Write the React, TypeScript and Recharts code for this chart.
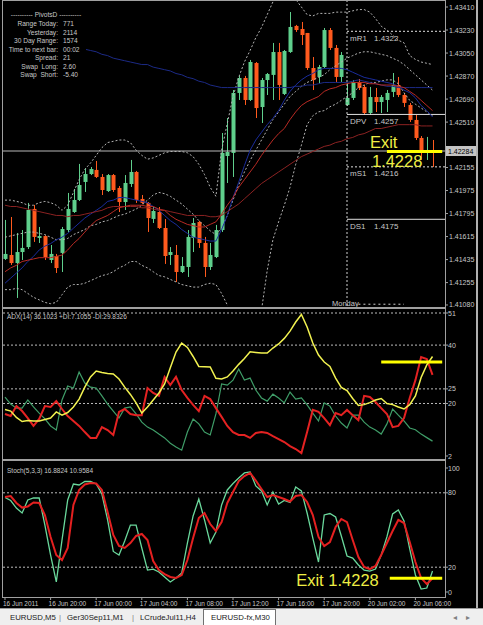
import { Bar, ComposedChart, Line, ReferenceLine, XAxis, YAxis } from "recharts";

// EURUSD M30, 16 Jun 16:00 .. 20 Jun 07:30 (76 bars)
const open = [
  1.4144, 1.41471, 1.41408, 1.41494, 1.41533, 1.41831, 1.41604, 1.41619, 1.41432, 1.41463,
  1.41487, 1.41666, 1.41807, 1.41901, 1.42042, 1.42104, 1.42136, 1.42081, 1.41971, 1.42096,
  1.41995, 1.41885, 1.42026, 1.4212, 1.41909, 1.41878, 1.41753, 1.41807, 1.41682, 1.41471,
  1.41471, 1.41338, 1.41377, 1.41604, 1.41729, 1.41565, 1.41377, 1.41455, 1.41666, 1.42245,
  1.42269, 1.42738, 1.42855, 1.42683, 1.42972, 1.42628, 1.42839, 1.42879, 1.43058, 1.4273,
  1.43058, 1.43262, 1.43238, 1.43207, 1.42933, 1.42863, 1.42941, 1.4323, 1.4309, 1.42863,
  1.42644, 1.42699, 1.42824, 1.42785, 1.42581, 1.42706, 1.42667, 1.42683, 1.42746, 1.428,
  1.42722, 1.42644, 1.42527, 1.42386, 1.42269, 1.42292,
];
const high = [
  1.41745, 1.41768, 1.41643, 1.41666, 1.41878, 1.41862, 1.4169, 1.41625, 1.41549, 1.41479,
  1.4169, 1.41956, 1.41987, 1.42183, 1.42151, 1.42159, 1.42206, 1.42104, 1.42104, 1.42104,
  1.4201, 1.42096, 1.42214, 1.42128, 1.4194, 1.41885, 1.41846, 1.41846, 1.41752, 1.41533,
  1.41549, 1.41455, 1.41666, 1.4176, 1.41737, 1.41612, 1.41565, 1.41706, 1.42425, 1.42542,
  1.42761, 1.42871, 1.42871, 1.42996, 1.4298, 1.42855, 1.42894, 1.43129, 1.43129, 1.43074,
  1.43371, 1.4327, 1.43293, 1.43207, 1.43019, 1.42957, 1.43246, 1.43246, 1.43113, 1.43058,
  1.42816, 1.42839, 1.42847, 1.428, 1.42785, 1.42777, 1.42722, 1.42761, 1.42894, 1.42863,
  1.42738, 1.4266, 1.42566, 1.42401, 1.42394, 1.4237,
];
const low = [
  1.41432, 1.41393, 1.41135, 1.41432, 1.41518, 1.41573, 1.41565, 1.41432, 1.41408, 1.4133,
  1.41338, 1.41651, 1.418, 1.41893, 1.41964, 1.42096, 1.42073, 1.4194, 1.41964, 1.41964,
  1.41807, 1.41823, 1.42003, 1.41878, 1.4187, 1.41651, 1.41721, 1.41674, 1.41401, 1.41393,
  1.4126, 1.4133, 1.41299, 1.41494, 1.41526, 1.41299, 1.41354, 1.41447, 1.41651, 1.42034,
  1.42081, 1.42683, 1.42644, 1.42675, 1.42542, 1.42503, 1.42722, 1.42683, 1.42683, 1.42722,
  1.43051, 1.43215, 1.43113, 1.42918, 1.42761, 1.42816, 1.42933, 1.43074, 1.42824, 1.42824,
  1.42636, 1.42683, 1.42761, 1.42566, 1.42566, 1.42589, 1.42581, 1.42589, 1.42706, 1.42706,
  1.42628, 1.42511, 1.4237, 1.42214, 1.42214, 1.42159,
];
const close = [
  1.41479, 1.41408, 1.41494, 1.41526, 1.41823, 1.41612, 1.41619, 1.41455, 1.41479, 1.41369,
  1.41674, 1.41831, 1.41901, 1.42018, 1.42104, 1.42143, 1.42081, 1.41979, 1.42096, 1.41979,
  1.41885, 1.42034, 1.4212, 1.41901, 1.41878, 1.4176, 1.41815, 1.41682, 1.41463, 1.41494,
  1.41338, 1.41385, 1.41612, 1.41721, 1.41565, 1.41377, 1.41471, 1.41666, 1.42269, 1.42276,
  1.42738, 1.42855, 1.42683, 1.4298, 1.4262, 1.42839, 1.42886, 1.43058, 1.428, 1.43066,
  1.43254, 1.4323, 1.43191, 1.42933, 1.42839, 1.42941, 1.4323, 1.4309, 1.42863, 1.43035,
  1.42699, 1.42824, 1.42777, 1.42581, 1.42706, 1.42667, 1.42706, 1.42738, 1.428, 1.42722,
  1.4266, 1.42527, 1.42386, 1.42276, 1.42292, 1.42284,
];

const bbUpper = [
  1.419, 1.419, 1.4189, 1.4188, 1.4186, 1.4186, 1.4188, 1.4189, 1.4188, 1.4186,
  1.4182, 1.4186, 1.4196, 1.4206, 1.4214, 1.4219, 1.4225, 1.4231, 1.4235, 1.4236,
  1.4237, 1.4237, 1.4235, 1.4229, 1.4225, 1.4222, 1.4223, 1.4225, 1.4227, 1.4228,
  1.4228, 1.4228, 1.4227, 1.4224, 1.4218, 1.421, 1.42, 1.4193, 1.4229, 1.425,
  1.4271, 1.4286, 1.4298, 1.4307, 1.4317, 1.4325, 1.4335, 1.4345, 1.4352, 1.4355,
  1.4352, 1.4347, 1.4341, 1.4335, 1.4334, 1.4336, 1.4336, 1.4336, 1.4337, 1.4337,
  1.4337, 1.4338, 1.4339, 1.4339, 1.4337, 1.4332, 1.4326, 1.4323, 1.4319, 1.4315,
  1.4313, 1.4303, 1.43, 1.4298, 1.4297, 1.4296,
];
const bbMiddle = [
  1.4161, 1.4162, 1.4163, 1.4164, 1.4165, 1.4165, 1.4164, 1.4163, 1.4161, 1.4159,
  1.4159, 1.416, 1.4163, 1.4165, 1.4167, 1.417, 1.4171, 1.4173, 1.4174, 1.4176,
  1.4178, 1.4179, 1.4181, 1.4183, 1.4186, 1.419, 1.4194, 1.4196, 1.4195, 1.4193,
  1.419, 1.4187, 1.4183, 1.4179, 1.4174, 1.417, 1.4166, 1.4163, 1.4168, 1.4178,
  1.419, 1.4202, 1.4212, 1.4221, 1.4229, 1.4237, 1.4245, 1.4253, 1.4259, 1.4265,
  1.4271, 1.4275, 1.4279, 1.4282, 1.4284, 1.4286, 1.4288, 1.4292, 1.4295, 1.4298,
  1.4301, 1.4303, 1.4305, 1.4306, 1.4306, 1.4305, 1.4304, 1.4303, 1.4301, 1.4299,
  1.4296, 1.4292, 1.4288, 1.4284, 1.428, 1.4276,
];
const bbLower = [
  1.412, 1.412, 1.4121, 1.412, 1.4117, 1.4114, 1.4112, 1.411, 1.4109, 1.411,
  1.4116, 1.4122, 1.4124, 1.4124, 1.4125, 1.4127, 1.4129, 1.4131, 1.4132, 1.4134,
  1.4137, 1.4139, 1.4142, 1.4142, 1.4139, 1.4137, 1.4134, 1.4131, 1.413, 1.4128,
  1.4126, 1.4124, 1.4123, 1.4122, 1.4122, 1.4124, 1.4125, 1.4124, 1.4117, 1.4108,
  1.4098, 1.4092, 1.4088, 1.4087, 1.4088, 1.4104, 1.4135, 1.4159, 1.4173, 1.4186,
  1.42, 1.4218, 1.4233, 1.4249, 1.4256, 1.4259, 1.426, 1.4263, 1.4265, 1.4268,
  1.4271, 1.4274, 1.4278, 1.428, 1.4282, 1.4282, 1.4283, 1.4284, 1.4284, 1.4281,
  1.4274, 1.4268, 1.4265, 1.4262, 1.4259, 1.4256,
];
const maLong = [
  1.4321, 1.432, 1.4319, 1.4318, 1.4318, 1.4317, 1.4316, 1.4315, 1.4314, 1.4314,
  1.4313, 1.4311, 1.4311, 1.4309, 1.4308, 1.4307, 1.4306, 1.4304, 1.4303, 1.4301,
  1.43, 1.4299, 1.4298, 1.4297, 1.4296, 1.4296, 1.4294, 1.4293, 1.4292, 1.4291,
  1.4289, 1.4288, 1.4286, 1.4285, 1.4283, 1.4282, 1.428, 1.4279, 1.4278, 1.4278,
  1.4278, 1.4278, 1.4278, 1.4278, 1.4278, 1.4278, 1.4278, 1.4278, 1.4278, 1.4278,
  1.4278, 1.4279, 1.4279, 1.428, 1.428, 1.4281, 1.4282, 1.4282, 1.4282, 1.4282,
  1.4282, 1.4283, 1.4284, 1.4283, 1.4282, 1.4281, 1.428, 1.4279, 1.4279, 1.4278,
  1.4278, 1.4278, 1.4278, 1.4278, 1.4278, 1.4278,
];
const maBlue = [
  1.4125, 1.4129, 1.4133, 1.4137, 1.4142, 1.4146, 1.4151, 1.4154, 1.4156, 1.4159,
  1.4161, 1.4164, 1.4168, 1.4172, 1.4176, 1.4179, 1.4182, 1.4185, 1.4189, 1.419,
  1.4192, 1.4192, 1.4191, 1.419, 1.4189, 1.4188, 1.4185, 1.4182, 1.4178, 1.4174,
  1.4171, 1.4167, 1.4164, 1.4161, 1.416, 1.4159, 1.4158, 1.4158, 1.4167, 1.4178,
  1.4192, 1.4204, 1.4217, 1.4229, 1.4237, 1.4243, 1.4249, 1.4254, 1.426, 1.4268,
  1.4275, 1.428, 1.4284, 1.4287, 1.4289, 1.4292, 1.4293, 1.4293, 1.4293, 1.4293,
  1.4292, 1.429, 1.4288, 1.4286, 1.4285, 1.4284, 1.4283, 1.4282, 1.4281, 1.4279,
  1.4276, 1.4274, 1.427, 1.4264, 1.426, 1.4255,
];
const maRed = [
  1.4134, 1.4137, 1.4139, 1.4142, 1.4143, 1.4144, 1.4145, 1.4145, 1.4145, 1.4146,
  1.4147, 1.4151, 1.4156, 1.416, 1.4165, 1.417, 1.4174, 1.4176, 1.4178, 1.4181,
  1.4184, 1.4185, 1.4186, 1.4186, 1.4186, 1.4185, 1.4185, 1.4183, 1.4182, 1.4178,
  1.4175, 1.4173, 1.4171, 1.417, 1.4169, 1.4169, 1.4171, 1.4173, 1.4179, 1.4186,
  1.4192, 1.42, 1.4206, 1.4212, 1.4218, 1.4225, 1.4231, 1.4237, 1.4242, 1.4246,
  1.4253, 1.4259, 1.4264, 1.4267, 1.4269, 1.4271, 1.4275, 1.4277, 1.4278, 1.428,
  1.4281, 1.4282, 1.4282, 1.4282, 1.4281, 1.4281, 1.428, 1.428, 1.428, 1.4279,
  1.4278, 1.4275, 1.4272, 1.4268, 1.4264, 1.426,
];
const maMaroon = [
  1.4186, 1.4185, 1.4185, 1.4184, 1.4183, 1.4182, 1.4181, 1.418, 1.4179, 1.4178,
  1.4178, 1.4177, 1.4178, 1.4178, 1.4179, 1.418, 1.4181, 1.4182, 1.4184, 1.4185,
  1.4185, 1.4185, 1.4185, 1.4185, 1.4184, 1.4184, 1.4183, 1.4182, 1.4182, 1.4181,
  1.418, 1.4179, 1.4178, 1.4178, 1.4178, 1.4178, 1.4177, 1.4177, 1.4178, 1.4181,
  1.4184, 1.4187, 1.4191, 1.4195, 1.4199, 1.4203, 1.4206, 1.4209, 1.4212, 1.4215,
  1.4218, 1.4221, 1.4224, 1.4226, 1.4228, 1.423, 1.4232, 1.4233, 1.4235, 1.4236,
  1.4238, 1.4239, 1.4241, 1.4242, 1.4244, 1.4246, 1.4246, 1.4247, 1.4248, 1.4249,
  1.4249, 1.4249, 1.4249, 1.4248, 1.4248, 1.4248,
];

const adx = [
  17.9, 17.4, 15.2, 13.8, 14.2, 14.0, 14.0, 14.5, 15.0, 17.1,
  16.0, 16.9, 18.8, 21.5, 25.6, 29.1, 31.1, 30.6, 30.3, 30.1,
  28.4, 25.6, 23.1, 20.2, 16.7, 18.8, 21.2, 23.6, 26.7, 32.2,
  37.6, 40.7, 39.2, 36.1, 32.7, 32.6, 32.5, 28.6, 28.4, 29.1,
  31.1, 33.4, 35.4, 37.7, 37.5, 37.3, 37.3, 39.0, 40.4, 42.3,
  44.8, 47.9, 50.5, 46.2, 40.7, 36.6, 34.2, 32.7, 28.7, 25.5,
  24.4, 21.7, 19.3, 19.6, 20.3, 21.2, 21.7, 20.0, 19.6, 18.8,
  18.1, 19.6, 22.6, 28.9, 33.2, 36.1,
];
const plusDi = [
  22.2, 19.8, 18.4, 18.4, 21.2, 18.8, 16.7, 14.7, 12.3, 10.9,
  21.2, 26.0, 25.3, 30.8, 27.0, 25.6, 25.3, 22.6, 19.8, 17.4,
  15.0, 18.4, 18.8, 16.4, 13.6, 11.9, 10.9, 9.5, 8.2, 6.4,
  5.1, 4.0, 10.2, 14.7, 13.0, 10.2, 9.2, 16.4, 26.7, 26.3,
  28.0, 31.8, 28.0, 28.7, 24.6, 21.9, 20.8, 23.2, 21.9, 20.2,
  23.9, 21.5, 21.9, 19.5, 16.7, 14.0, 20.2, 19.1, 15.7, 13.3,
  11.6, 16.0, 16.0, 13.6, 11.9, 10.9, 9.5, 13.0, 18.1, 16.0,
  14.0, 11.6, 11.0, 9.5, 8.3, 7.1,
];
const minusDi = [
  16.4, 15.7, 19.1, 17.4, 15.0, 12.3, 14.7, 19.1, 18.8, 20.8,
  18.1, 15.7, 14.0, 12.3, 10.2, 8.2, 8.2, 11.9, 10.9, 9.2,
  17.1, 18.1, 16.4, 16.0, 16.0, 25.3, 23.6, 22.6, 29.1, 26.3,
  29.1, 24.6, 21.9, 19.5, 17.4, 22.6, 21.5, 18.4, 15.4, 12.3,
  10.2, 9.2, 9.2, 8.2, 9.9, 10.2, 9.9, 8.8, 7.8, 6.8,
  5.4, 4.4, 3.0, 10.2, 17.8, 17.1, 15.0, 12.6, 16.7, 16.0,
  17.8, 16.0, 14.3, 22.6, 22.2, 20.5, 18.4, 16.4, 11.9, 12.3,
  15.0, 21.9, 28.0, 35.9, 35.2, 29.8,
];
const stochMain = [
  76.2, 73.8, 67.7, 63.7, 74.2, 75.8, 75.8, 54.0, 29.8, 8.1,
  41.9, 74.2, 87.1, 86.3, 89.1, 89.1, 87.1, 79.0, 58.1, 32.7,
  29.8, 41.1, 54.0, 54.0, 35.5, 17.7, 18.5, 16.1, 12.1, 8.1,
  11.3, 15.3, 39.5, 61.3, 75.0, 58.1, 39.5, 48.4, 70.2, 82.3,
  87.5, 91.9, 96.0, 96.8, 85.5, 81.5, 70.2, 80.6, 71.0, 73.8,
  72.2, 84.7, 81.5, 63.7, 43.5, 24.2, 62.1, 63.3, 60.5, 45.2,
  29.0, 27.4, 21.8, 17.7, 16.9, 18.5, 29.8, 44.4, 62.9, 66.1,
  57.3, 34.7, 13.7, 2.4, 3.2, 16.9,
];
const stochSignal = [
  76.6, 77.4, 71.8, 68.1, 69.0, 72.2, 71.8, 62.1, 44.4, 29.8,
  25.8, 35.5, 70.2, 82.3, 86.7, 87.9, 87.5, 82.3, 64.5, 46.0,
  37.1, 35.5, 39.5, 45.2, 46.8, 41.9, 25.0, 17.7, 14.5, 12.1,
  11.3, 13.7, 25.8, 43.5, 59.7, 63.7, 54.8, 49.2, 56.4, 71.8,
  80.6, 89.5, 93.5, 96.0, 89.9, 83.1, 76.6, 78.2, 76.6, 75.0,
  73.0, 77.4, 78.2, 72.6, 62.1, 44.4, 37.1, 40.3, 52.4, 58.9,
  56.4, 41.9, 28.2, 20.2, 18.5, 21.0, 29.8, 39.5, 49.2, 58.1,
  55.6, 40.3, 24.2, 11.3, 6.4, 11.0,
];

const timeTicks = [0, 8, 16, 24, 32, 40, 48, 56, 64, 72];
const timeLabels = [
  "16 Jun 2011", "16 Jun 20:00", "17 Jun 00:00", "17 Jun 04:00", "17 Jun 08:00",
  "17 Jun 12:00", "17 Jun 16:00", "17 Jun 20:00", "20 Jun 02:00", "20 Jun 06:00",
];
const priceTicks = [
  1.4341, 1.4323, 1.4305, 1.4287, 1.4269, 1.4251, 1.42284, 1.42155, 1.41975, 1.41795,
  1.41615, 1.41435, 1.41255, 1.4108,
];
const bidPrice = 1.42284;
const adxTicks = [51, 40, 25, 20, 2];
const adxLevels = [51, 40, 25, 20];
const stochTicks = [100, 80, 20, 0];
const stochLevels = [80, 20];
const pivots = [
  { name: "mR1", value: 1.4322, dashed: true },
  { name: "DPV", value: 1.4257, dashed: false },
  { name: "mS1", value: 1.4216, dashed: true },
  { name: "DS1", value: 1.4175, dashed: false },
];
const mondayBar = 60;
const exitPrice = 1.4228;
const exitAdx = 34.2;
const exitStoch = 11;

const infoRows = [
  ["Range Today:", "771"],
  ["Yesterday:", "2114"],
  ["30 Day Range:", "1574"],
  ["Time to next bar:", "00:02"],
  ["Spread:", "21"],
  ["Swap  Long:", "2.60"],
  ["Swap  Short:", "-5.40"],
];
const tabs = ["EURUSD,M5", "Ger30Sep11,M1", "LCrudeJul11,H4"];

const rows = open.map((o, i) => ({
  i,
  open: o,
  high: high[i],
  low: low[i],
  close: close[i],
  bbUpper: bbUpper[i],
  bbMiddle: bbMiddle[i],
  bbLower: bbLower[i],
  maLong: maLong[i],
  maBlue: maBlue[i],
  maRed: maRed[i],
  maMaroon: maMaroon[i],
  adx: adx[i],
  plusDi: plusDi[i],
  minusDi: minusDi[i],
  stochMain: stochMain[i],
  stochSignal: stochSignal[i],
}));

const X_DOMAIN: [number, number] = [-0.35, 77.19];
const BULL = "#5fcf8c";
const BEAR = "#ff5a1e";
const TEXT = "#c8c8c8";
const FRAME = "#a0a0a0";
const LEVEL = "#bdbdbd";
const YELLOW = "#ffff00";
const EXIT_TEXT = "#eeee44";

function Candle(props: any) {
  const { x, y, width, height, payload } = props;
  if (x == null || y == null || !payload) return null;
  const { open: o, close: c, high: h, low: l } = payload;
  const top = Math.min(y, y + height);
  const span = Math.abs(height);
  const at = (v: number) => top + ((h - v) / (h - l || 1)) * span;
  const color = c >= o ? BULL : BEAR;
  const cx = Math.round(x + width / 2);
  const bTop = at(Math.max(o, c));
  const bBot = at(Math.min(o, c));
  return (
    <g>
      <rect x={cx} y={top} width={1} height={Math.max(1, span)} fill={color} />
      <rect x={cx - 1.5} y={bTop} width={4} height={Math.max(1, bBot - bTop)} fill={color} />
    </g>
  );
}

function PriceTick(props: any) {
  const { x, y, payload } = props;
  const v = payload.value as number;
  const txt = v.toFixed(5);
  if (v === bidPrice) {
    return (
      <g>
        <rect x={x + 1} y={y - 5} width={30} height={10} fill="#c4c4c4" />
        <text x={x + 3} y={y + 2.5} fontSize={7} fill="#000">{txt}</text>
      </g>
    );
  }
  return (
    <g>
      <line x1={x} x2={x + 3} y1={y} y2={y} stroke={FRAME} />
      <text x={x + 4} y={y + 2.5} fontSize={7} fill={TEXT}>{txt}</text>
    </g>
  );
}

function LevelTick(props: any) {
  const { x, y, payload } = props;
  return (
    <g>
      <line x1={x} x2={x + 3} y1={y} y2={y} stroke={FRAME} />
      <text x={x + 3} y={y + 2.5} fontSize={7} fill={TEXT}>{payload.value}</text>
    </g>
  );
}

function TimeTick(props: any) {
  const { x, y, payload } = props;
  const k = timeTicks.indexOf(payload.value);
  return (
    <g>
      <line x1={x} x2={x} y1={y + 5} y2={y + 8} stroke={FRAME} />
      <text x={x - 2} y={y + 13.5} fontSize={6.5} fill={TEXT}>{timeLabels[k]}</text>
    </g>
  );
}

function PivotLabel(props: any) {
  const { viewBox, name, price } = props;
  if (!viewBox) return null;
  return (
    <g fontSize={8} fill={TEXT}>
      <text x={viewBox.x + 3} y={viewBox.y + 9.5}>{name}</text>
      <text x={viewBox.x + 27} y={viewBox.y + 9.5}>{price}</text>
    </g>
  );
}

function MondayLabel(props: any) {
  const { viewBox } = props;
  if (!viewBox) return null;
  return (
    <text x={viewBox.x - 15} y={viewBox.y + viewBox.height} fontSize={7.5} fill={TEXT}>
      Monday
    </text>
  );
}

function ExitLabel(props: any) {
  const { viewBox } = props;
  if (!viewBox) return null;
  return (
    <g fill={EXIT_TEXT} fontSize={16.5}>
      <text x={viewBox.x - 17} y={viewBox.y - 3.5}>Exit</text>
      <text x={viewBox.x - 15} y={viewBox.y + 15}>1.4228</text>
    </g>
  );
}

function StochExitLabel(props: any) {
  const { viewBox } = props;
  if (!viewBox) return null;
  return (
    <text x={viewBox.x - 11} y={viewBox.y + 8} textAnchor="end" fontSize={16.5} fill={EXIT_TEXT}>
      Exit 1.4228
    </text>
  );
}

function line(key: string, color: string, width = 1, dash?: string) {
  return (
    <Line
      key={key}
      type="linear"
      dataKey={key}
      stroke={color}
      strokeWidth={width}
      strokeDasharray={dash}
      dot={false}
      activeDot={false}
      isAnimationActive={false}
    />
  );
}

export default function App() {
  return (
    <div
      style={{
        position: "fixed",
        left: 0,
        top: 0,
        width: 483,
        height: 625,
        background: "#000",
        overflow: "hidden",
        fontFamily: '"Liberation Sans", Arial, sans-serif',
      }}
    >
      <div style={{ position: "absolute", left: 0, top: 0 }}>
        <ComposedChart width={476} height={308} data={rows} margin={{ top: 1, right: 0, bottom: 2, left: 3 }}>
          <XAxis dataKey="i" type="number" domain={X_DOMAIN} hide allowDataOverflow />
          <YAxis
            orientation="right"
            type="number"
            domain={[1.41072, 1.43457]}
            ticks={priceTicks}
            interval={0}
            tick={<PriceTick />}
            tickLine={false}
            axisLine={false}
            tickSize={0}
            tickMargin={0}
            width={31}
            allowDataOverflow
          />
          <ReferenceLine x={mondayBar} stroke="#d0d0d0" strokeDasharray="2 2" label={<MondayLabel />} />
          {pivots.map((p) => (
            <ReferenceLine
              key={p.name}
              segment={[{ x: mondayBar, y: p.value }, { x: X_DOMAIN[1], y: p.value }]}
              stroke="#e0e0e0"
              strokeDasharray={p.dashed ? "2 2" : undefined}
              label={<PivotLabel name={p.name} price={p.value.toFixed(4)} />}
            />
          ))}
          <ReferenceLine
            segment={[{ x: 62, y: 1.41086 }, { x: 70, y: 1.41086 }]}
            stroke="#d0d0d0"
            strokeDasharray="2 3"
          />
          <ReferenceLine y={bidPrice} stroke="#b8b8b8" />
          <Bar dataKey={(d: any) => [d.low, d.high]} shape={<Candle />} barSize={4} isAnimationActive={false} />
          {line("bbUpper", "#b4b4b4", 1, "2 2")}
          {line("bbMiddle", "#b4b4b4", 1, "2 2")}
          {line("bbLower", "#b4b4b4", 1, "2 2")}
          {line("maLong", "#1c2a86")}
          {line("maBlue", "#1a2c9c")}
          {line("maMaroon", "#8c2222")}
          {line("maRed", "#b82a24")}
          <ReferenceLine
            segment={[{ x: 67, y: exitPrice }, { x: 76.7, y: exitPrice }]}
            stroke={YELLOW}
            strokeWidth={3}
            label={<ExitLabel />}
          />
        </ComposedChart>
      </div>

      <div style={{ position: "absolute", left: 0, top: 308 }}>
        <ComposedChart width={476} height={152} data={rows} margin={{ top: 5, right: 0, bottom: 4, left: 3 }}>
          <XAxis dataKey="i" type="number" domain={X_DOMAIN} hide allowDataOverflow />
          <YAxis
            orientation="right"
            type="number"
            domain={[2, 51]}
            ticks={adxTicks}
            interval={0}
            tick={<LevelTick />}
            tickLine={false}
            axisLine={false}
            tickSize={0}
            tickMargin={0}
            width={31}
            allowDataOverflow
          />
          {adxLevels.map((v) => (
            <ReferenceLine key={v} y={v} stroke={LEVEL} strokeDasharray="2 2" />
          ))}
          {line("plusDi", "#3f9d68", 1.2)}
          {line("minusDi", "#e42222", 2)}
          {line("adx", "#f2f250", 1.5)}
          <ReferenceLine
            segment={[{ x: 66, y: exitAdx }, { x: 76.7, y: exitAdx }]}
            stroke={YELLOW}
            strokeWidth={3}
          />
        </ComposedChart>
      </div>

      <div style={{ position: "absolute", left: 0, top: 461 }}>
        <ComposedChart width={476} height={150} data={rows} margin={{ top: 7, right: 0, bottom: 0, left: 3 }}>
          <XAxis
            dataKey="i"
            type="number"
            domain={X_DOMAIN}
            ticks={timeTicks}
            interval={0}
            tick={<TimeTick />}
            tickLine={false}
            axisLine={false}
            tickSize={0}
            tickMargin={0}
            height={19}
            allowDataOverflow
          />
          <YAxis
            orientation="right"
            type="number"
            domain={[0, 100]}
            ticks={stochTicks}
            interval={0}
            tick={<LevelTick />}
            tickLine={false}
            axisLine={false}
            tickSize={0}
            tickMargin={0}
            width={31}
            allowDataOverflow
          />
          {stochLevels.map((v) => (
            <ReferenceLine key={v} y={v} stroke={LEVEL} strokeDasharray="2 2" />
          ))}
          {line("stochMain", "#6ad89c", 1.3)}
          {line("stochSignal", "#e42020", 2)}
          <ReferenceLine
            segment={[{ x: 67.5, y: exitStoch }, { x: 76.7, y: exitStoch }]}
            stroke={YELLOW}
            strokeWidth={3}
            label={<StochExitLabel />}
          />
        </ComposedChart>
      </div>

      <svg width={483} height={625} style={{ position: "absolute", left: 0, top: 0, pointerEvents: "none" }}>
        <rect x={2.5} y={0.5} width={443} height={307} fill="none" stroke={FRAME} />
        <rect x={2.5} y={308.5} width={443} height={151} fill="none" stroke={FRAME} />
        <rect x={2.5} y={460.5} width={443} height={137} fill="none" stroke={FRAME} />
        <rect x={476} y={0} width={2} height={608} fill="#b0b0b0" />

        <rect x={3} y={3} width={83} height={78} fill="#000" />
        <g fontSize={6.6} fill={TEXT}>
          <text x={46} y={17} textAnchor="middle">---------- PivotsD ----------</text>
          {infoRows.map(([k, v], n) => (
            <g key={k}>
              <text x={58} y={26.4 + n * 8.5} textAnchor="end" style={{ whiteSpace: "pre" }}>{k}</text>
              <text x={63} y={26.4 + n * 8.5}>{v}</text>
            </g>
          ))}
        </g>

        <text x={7} y={318.5} fontSize={6.5} fill={TEXT}>ADX(14) 36.1023 +DI:7.1055 -DI:29.8326</text>
        <text x={7} y={472.5} fontSize={6.5} fill={TEXT}>Stoch(5,3,3) 16.8824 10.9584</text>

        <rect x={0} y={608} width={483} height={17} fill="#efefef" />
        <line x1={0} x2={483} y1={608.5} y2={608.5} stroke="#9a9a9a" />
        <g fontSize={7.8} fill="#202020">
          <text x={10} y={620}>{tabs[0]}</text>
          <text x={59} y={620} fill="#808080">|</text>
          <text x={67} y={620}>{tabs[1]}</text>
          <text x={132} y={620} fill="#808080">|</text>
          <text x={140} y={620}>{tabs[2]}</text>
          <rect x={203.5} y={609.5} width={72} height={16} fill="#fff" stroke="#707070" />
          <text x={211} y={620}>EURUSD-fx,M30</text>
          <text x={453} y={620} fill="#808080">◂</text>
          <text x={466} y={620} fill="#808080">▸</text>
        </g>
      </svg>
    </div>
  );
}
